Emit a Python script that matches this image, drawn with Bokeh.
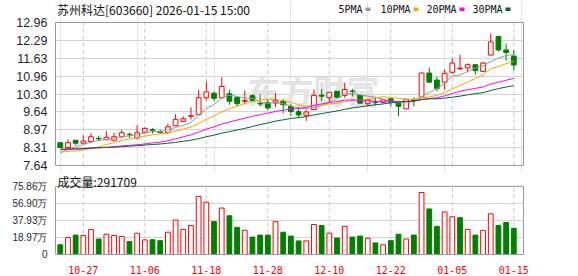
from bokeh.plotting import figure
from bokeh.models import (Range1d, FixedTicker, Label, BoxAnnotation, ColumnDataSource,
                          PrintfTickFormatter, LinearAxis, Span)
from bokeh.layouts import column
from bokeh.embed import file_html
from bokeh.resources import INLINE

# ---------------- data ----------------
title_text = "苏州科达[603660] 2026-01-15 15:00"
last_volume = 291709

dates = ["10-22", "10-23", "10-24", "10-27", "10-28", "10-29", "10-30", "10-31",
         "11-03", "11-04", "11-05", "11-06", "11-07", "11-10", "11-11", "11-12",
         "11-13", "11-14", "11-17", "11-18", "11-19", "11-20", "11-21", "11-24",
         "11-25", "11-26", "11-27", "11-28", "12-01", "12-02", "12-03", "12-04",
         "12-05", "12-08", "12-09", "12-10", "12-11", "12-12", "12-15", "12-16",
         "12-17", "12-18", "12-19", "12-22", "12-23", "12-24", "12-25", "12-26",
         "12-29", "12-30", "12-31", "01-05", "01-06", "01-07", "01-08", "01-09",
         "01-12", "01-13", "01-14", "01-15"]

opens = [8.49, 8.31, 8.58, 8.47, 8.53, 8.65, 8.60, 8.58, 8.71, 8.80,
         8.67, 8.88, 8.97, 8.90, 8.87, 9.12, 9.28, 9.47, 9.53, 10.16,
         10.33, 10.16, 10.31, 10.17, 10.03, 10.24, 9.95, 9.97, 9.97, 10.03,
         9.84, 9.64, 9.51, 9.72, 10.26, 10.16, 10.40, 10.25, 10.41, 10.25,
         9.94, 10.00, 9.99, 10.12, 9.96, 9.75, 10.08, 10.18, 11.08, 10.82,
         10.74, 11.11, 11.24, 11.27, 11.39, 11.14, 11.75, 12.44, 11.94, 11.71]
highs = [8.50, 8.61, 8.59, 8.76, 8.83, 8.75, 8.92, 8.86, 8.96, 8.86,
         9.14, 9.06, 9.03, 8.98, 9.20, 9.55, 9.47, 9.81, 10.46, 10.77,
         10.40, 10.92, 10.46, 10.21, 10.43, 10.28, 10.28, 10.09, 10.33, 10.12,
         9.94, 9.81, 9.72, 10.47, 10.49, 10.38, 10.41, 10.71, 10.49, 10.26,
         10.12, 10.16, 10.12, 10.14, 9.98, 10.12, 10.18, 11.10, 11.29, 10.95,
         11.21, 11.62, 11.76, 11.44, 11.40, 11.50, 12.55, 12.46, 12.18, 11.93]
lows = [8.29, 8.29, 8.39, 8.46, 8.49, 8.56, 8.58, 8.55, 8.65, 8.66,
        8.61, 8.83, 8.83, 8.83, 8.83, 9.10, 9.26, 9.35, 9.52, 10.06,
        10.03, 10.14, 9.90, 9.85, 9.91, 10.00, 9.84, 9.69, 9.81, 9.57,
        9.48, 9.41, 9.30, 9.70, 10.03, 9.97, 10.14, 10.16, 10.21, 9.93,
        9.85, 9.88, 9.95, 9.84, 9.48, 9.74, 9.84, 10.16, 10.73, 10.40,
        10.46, 11.05, 11.19, 11.11, 11.02, 11.13, 11.74, 11.88, 11.54, 11.17]
closes = [8.31, 8.49, 8.47, 8.55, 8.71, 8.63, 8.69, 8.71, 8.86, 8.79,
          8.86, 9.02, 8.95, 8.87, 9.08, 9.36, 9.38, 9.49, 10.16, 10.38,
          10.14, 10.58, 10.03, 9.94, 10.06, 10.05, 9.93, 9.78, 10.05, 9.90,
          9.65, 9.52, 9.63, 10.25, 10.22, 10.36, 10.18, 10.47, 10.39, 9.96,
          10.09, 9.98, 10.09, 9.99, 9.84, 10.09, 10.06, 11.08, 10.74, 10.51,
          11.07, 11.45, 11.26, 11.39, 11.17, 11.45, 12.24, 11.94, 11.84, 11.38]

ma5 = [8.10, 8.24, 8.33, 8.42, 8.51, 8.57, 8.61, 8.66, 8.72, 8.74,
       8.78, 8.85, 8.90, 8.90, 8.96, 9.06, 9.13, 9.24, 9.49, 9.75,
       9.91, 10.15, 10.26, 10.21, 10.15, 10.13, 10.00, 9.95, 9.98, 9.94,
       9.86, 9.78, 9.75, 9.79, 9.85, 10.00, 10.13, 10.30, 10.32, 10.27,
       10.22, 10.18, 10.10, 10.02, 10.00, 10.00, 10.01, 10.21, 10.36, 10.50,
       10.69, 10.97, 11.01, 11.14, 11.27, 11.34, 11.50, 11.64, 11.73, 11.77]
ma10 = [8.17, 8.17, 8.18, 8.21, 8.27, 8.33, 8.42, 8.49, 8.57, 8.62,
        8.68, 8.73, 8.78, 8.81, 8.85, 8.92, 8.99, 9.07, 9.20, 9.36,
        9.48, 9.64, 9.75, 9.85, 9.95, 10.02, 10.08, 10.11, 10.10, 10.05,
        10.00, 9.89, 9.85, 9.88, 9.90, 9.93, 9.95, 10.02, 10.06, 10.06,
        10.11, 10.15, 10.20, 10.17, 10.14, 10.11, 10.10, 10.16, 10.19, 10.25,
        10.35, 10.49, 10.61, 10.75, 10.88, 11.02, 11.24, 11.32, 11.43, 11.52]
ma20 = [8.23, 8.24, 8.25, 8.26, 8.28, 8.30, 8.32, 8.34, 8.37, 8.39,
        8.41, 8.44, 8.48, 8.51, 8.56, 8.63, 8.71, 8.78, 8.88, 8.99,
        9.08, 9.18, 9.26, 9.33, 9.40, 9.47, 9.53, 9.59, 9.65, 9.70,
        9.74, 9.77, 9.80, 9.87, 9.93, 9.98, 10.02, 10.07, 10.08, 10.06,
        10.05, 10.02, 10.03, 10.03, 10.02, 10.02, 10.03, 10.09, 10.13, 10.16,
        10.23, 10.32, 10.40, 10.46, 10.51, 10.56, 10.67, 10.74, 10.81, 10.88]
ma30 = [8.25, 8.26, 8.26, 8.27, 8.29, 8.30, 8.31, 8.32, 8.34, 8.36,
        8.38, 8.40, 8.42, 8.44, 8.47, 8.50, 8.54, 8.58, 8.64, 8.71,
        8.77, 8.84, 8.90, 8.96, 9.02, 9.09, 9.16, 9.22, 9.29, 9.34,
        9.39, 9.42, 9.46, 9.52, 9.57, 9.62, 9.67, 9.73, 9.78, 9.82,
        9.86, 9.90, 9.93, 9.97, 10.00, 10.02, 10.04, 10.10, 10.12, 10.12,
        10.15, 10.18, 10.22, 10.27, 10.31, 10.35, 10.43, 10.50, 10.56, 10.61]

volume_wan = [10.8, 19.0, 21.6, 21.2, 27.7, 17.2, 22.6, 21.2, 20.1, 14.4,
              23.7, 16.2, 16.5, 15.4, 24.8, 38.4, 28.0, 32.3, 64.7, 58.2,
              36.6, 51.7, 43.1, 30.2, 26.9, 19.4, 21.6, 21.6, 36.6, 24.8,
              20.5, 15.1, 15.1, 33.4, 32.3, 23.7, 18.3, 31.3, 19.4, 20.5,
              18.0, 12.9, 10.8, 15.4, 22.6, 17.2, 21.6, 69.0, 50.7, 31.3,
              47.4, 42.0, 41.0, 28.0, 21.6, 26.9, 45.3, 32.3, 35.6, 29.17]

price_ticks = [7.64, 8.31, 8.97, 9.64, 10.30, 10.96, 11.63, 12.29, 12.96]
vol_ticks = [0, 18.97, 37.93, 56.90, 75.86]
vol_tick_labels = ["0", "18.97万", "37.93万", "56.90万", "75.86万"]
date_tick_idx = [3, 11, 19, 27, 35, 43, 51, 59]
ma_names = ["5PMA", "10PMA", "20PMA", "30PMA"]

# ---------------- styles / layout ----------------
RED = "#ff0000"
GREEN = "#008000"
MA_COLORS = ["#999999", "#ffa500", "#ff00ff", "#00663a"]
GRID = "#d4d4d4"
VGRID = "#c8c8c8"
FRAME = "#9a9a9a"
LABEL_COLOR = "#1f1f2f"
W = 578
H1, H2 = 172, 104            # canvas heights of the two panels
P_TOP, P_BOT = 22, 165       # pixel rows of the price frame (inside panel 1)
V_TOP, V_BOT = 14, 83        # pixel rows of the volume frame (inside panel 2)

pmin, pmax = price_ticks[0], price_ticks[-1]
ppu = (P_BOT - P_TOP) / (pmax - pmin)
price_range = Range1d(pmin - (H1 - P_BOT) / ppu, pmax + P_TOP / ppu)
vmax = vol_ticks[-1]
vpu = (V_BOT - V_TOP) / vmax
vol_range = Range1d(0, vmax + V_TOP / vpu)

n = len(dates)
xs = list(range(n))
up = [c >= o for o, c in zip(opens, closes)]
candle_color = [RED if u else GREEN for u in up]
candle_fill = ["#ffffff" if u else GREEN for u in up]
vol_up = [closes[i] >= (closes[i - 1] if i > 0 else opens[i]) for i in xs]
vol_color = [RED if u else GREEN for u in vol_up]
vol_fill = ["#ffffff" if u else GREEN for u in vol_up]

src = ColumnDataSource(dict(
    x=xs, o=opens, h=highs, l=lows, c=closes,
    top=[max(o, c) for o, c in zip(opens, closes)],
    bottom=[min(o, c) for o, c in zip(opens, closes)],
    color=candle_color, fill=candle_fill,
))
vsrc = ColumnDataSource(dict(x=xs, v=volume_wan, color=vol_color, fill=vol_fill))

xr = Range1d(-0.62, 60.26)


def style_left_axis(ax, font_size):
    ax.major_tick_line_color = None
    ax.minor_tick_line_color = None
    ax.axis_line_color = FRAME
    ax.major_label_standoff = 2
    ax.major_label_text_font = "Liberation Sans"
    ax.major_label_text_font_size = font_size
    ax.major_label_text_color = LABEL_COLOR


def add_right_border(p, bounds):
    ax = LinearAxis(ticker=FixedTicker(ticks=[]), bounds=bounds, axis_line_color=FRAME,
                    major_tick_line_color=None, minor_tick_line_color=None,
                    major_label_text_alpha=0)
    p.add_layout(ax, "right")


# ---------------- price panel ----------------
p1 = figure(width=W, height=H1, x_range=xr, y_range=price_range,
            output_backend="svg", toolbar_location=None, tools="",
            x_axis_location=None, min_border_left=55, min_border_right=55,
            min_border_top=0, min_border_bottom=0)
p1.outline_line_color = None
p1.background_fill_color = "white"
p1.border_fill_color = "white"
p1.yaxis.ticker = FixedTicker(ticks=price_ticks)
p1.yaxis.formatter = PrintfTickFormatter(format="%.2f")
p1.yaxis.bounds = (pmin, pmax)
style_left_axis(p1.yaxis, "12.5px")
p1.ygrid.ticker = FixedTicker(ticks=price_ticks)
p1.ygrid.grid_line_color = GRID
add_right_border(p1, (pmin, pmax))
p1.add_layout(Span(location=pmax, dimension="width", line_color=FRAME, line_width=1))
p1.add_layout(Span(location=pmin, dimension="width", line_color=FRAME, line_width=1))
p1.segment(x0=date_tick_idx, y0=[pmin] * len(date_tick_idx), x1=date_tick_idx,
           y1=[pmax] * len(date_tick_idx), line_color=VGRID, line_dash="4 3", line_width=1)

# watermark
p1.add_layout(Label(x=247, y=89, x_units="canvas", y_units="canvas", text="东方财富",
                    text_font="Noto Sans CJK SC", text_font_style="bold",
                    text_font_size="33px", text_color="#e4e4e4",
                    text_baseline="middle", level="underlay"))

p1.segment(x0="x", y0="l", x1="x", y1="h", line_color="color", line_width=1, source=src)
p1.vbar(x="x", top="top", bottom="bottom", width=0.62, fill_color="fill",
        line_color="color", line_width=1, source=src)
for ma, col in zip([ma5, ma10, ma20, ma30], MA_COLORS):
    p1.line(xs, ma, line_color=col, line_width=1)

# title + legend
p1.add_layout(Label(x=56.5, y=8.5, x_units="canvas", y_units="canvas", text=title_text,
                    text_font="Noto Sans CJK SC", text_font_size="12px",
                    text_color="#111111", text_baseline="middle"))
legend_text_x = [338, 380, 426, 472]
legend_mark_x = [365, 413, 459, 505]
for name, col, tx, mx in zip(ma_names, MA_COLORS, legend_text_x, legend_mark_x):
    p1.add_layout(Label(x=tx, y=9, x_units="canvas", y_units="canvas", text=name,
                        text_font="DejaVu Sans Mono", text_font_size="10px",
                        text_color="#111111", text_baseline="middle"))
    p1.add_layout(BoxAnnotation(left=mx, right=mx + 5, top=7, bottom=10.5,
                                left_units="canvas", right_units="canvas",
                                top_units="canvas", bottom_units="canvas",
                                fill_color=col, fill_alpha=1, line_color=None))

# ---------------- volume panel ----------------
p2 = figure(width=W, height=H2, x_range=xr, y_range=vol_range,
            output_backend="svg", toolbar_location=None, tools="",
            min_border_left=55, min_border_right=55, min_border_top=0,
            min_border_bottom=H2 - V_BOT)
p2.outline_line_color = None
p2.background_fill_color = "white"
p2.border_fill_color = "white"
p2.yaxis.ticker = FixedTicker(ticks=vol_ticks)
p2.yaxis.major_label_overrides = {t: s for t, s in zip(vol_ticks, vol_tick_labels)}
p2.yaxis.bounds = (0, vmax)
style_left_axis(p2.yaxis, "10px")
p2.ygrid.ticker = FixedTicker(ticks=vol_ticks)
p2.ygrid.grid_line_color = GRID
add_right_border(p2, (0, vmax))
p2.add_layout(Span(location=vmax, dimension="width", line_color=FRAME, line_width=1))
p2.xaxis.ticker = FixedTicker(ticks=date_tick_idx)
p2.xaxis.major_label_overrides = {i: dates[i] for i in date_tick_idx}
p2.xaxis.major_tick_line_color = None
p2.xaxis.minor_tick_line_color = None
p2.xaxis.axis_line_color = FRAME
p2.xaxis.major_label_standoff = 5
p2.xaxis.major_label_text_font = "DejaVu Sans Mono"
p2.xaxis.major_label_text_font_size = "10px"
p2.xaxis.major_label_text_color = RED
p2.xgrid.visible = False
p2.segment(x0=date_tick_idx, y0=[0] * len(date_tick_idx), x1=date_tick_idx,
           y1=[vmax] * len(date_tick_idx), line_color=VGRID, line_dash="4 3", line_width=1)

p2.vbar(x="x", top="v", bottom=0, width=0.62, fill_color="fill", line_color="color",
        line_width=1, source=vsrc)

p2.add_layout(Label(x=57, y=0.5, x_units="canvas", y_units="canvas",
                    text="成交量:%d" % last_volume,
                    text_font="Noto Sans CJK SC", text_font_size="12px",
                    text_color="#111111", text_baseline="top"))

layout = column(p1, p2, spacing=0)
open("out.html", "w").write(file_html(layout, INLINE))
